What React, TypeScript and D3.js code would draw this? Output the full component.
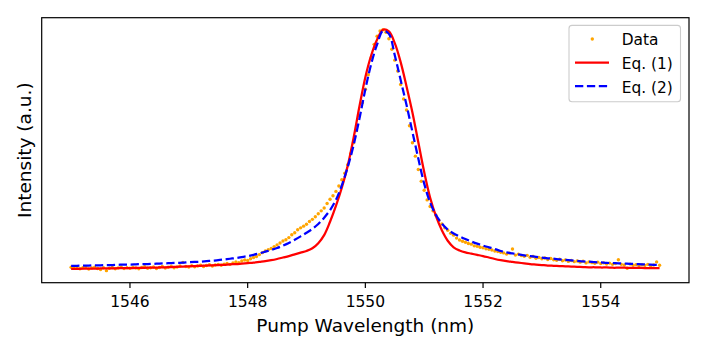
import React from "react";
import * as d3 from "d3";

// measured data, 1545..1555 nm in 0.05 nm steps (normalised intensity)
const dataStart = 1545;
const dataStep = 0.05;
const dataValues = [
  0.018, 0.014, 0.02, 0.012, 0.016, 0.019, 0.011, 0.015, 0.018, 0.013, 0.009, 0.016, 0.004, 0.014, 0.017, 0.012, 0.015, 0.019, 0.013, 0.016,
  0.014, 0.018, 0.015, 0.012, 0.017, 0.02, 0.014, 0.016, 0.019, 0.013, 0.017, 0.021, 0.015, 0.018, 0.022, 0.016, 0.019, 0.023, 0.038, 0.021,
  0.019, 0.024, 0.02, 0.023, 0.026, 0.021, 0.025, 0.028, 0.023, 0.027, 0.03, 0.026, 0.031, 0.034, 0.03, 0.036, 0.04, 0.037, 0.044, 0.048,
  0.046, 0.053, 0.058, 0.062, 0.07, 0.078, 0.085, 0.09, 0.095, 0.103, 0.11, 0.118, 0.126, 0.131, 0.14, 0.152, 0.16, 0.172, 0.18, 0.187,
  0.195, 0.206, 0.215, 0.226, 0.238, 0.25, 0.262, 0.28, 0.298, 0.312, 0.33, 0.352, 0.378, 0.405, 0.44, 0.485, 0.53, 0.58, 0.64, 0.695,
  0.75, 0.81, 0.88, 0.935, 0.968, 0.99, 0.995, 0.985, 0.958, 0.915, 0.87, 0.825, 0.77, 0.71, 0.665, 0.6, 0.53, 0.475, 0.42, 0.372,
  0.335, 0.295, 0.268, 0.25, 0.232, 0.21, 0.196, 0.18, 0.17, 0.158, 0.15, 0.138, 0.13, 0.125, 0.121, 0.116, 0.113, 0.106, 0.104, 0.1,
  0.098, 0.094, 0.092, 0.089, 0.085, 0.083, 0.08, 0.077, 0.072, 0.076, 0.093, 0.068, 0.072, 0.066, 0.063, 0.067, 0.059, 0.062, 0.055, 0.058,
  0.053, 0.056, 0.05, 0.054, 0.049, 0.047, 0.051, 0.045, 0.048, 0.042, 0.046, 0.041, 0.044, 0.039, 0.043, 0.036, 0.04, 0.037, 0.034, 0.039,
  0.033, 0.036, 0.031, 0.035, 0.03, 0.033, 0.049, 0.03, 0.027, 0.014, 0.031, 0.026, 0.029, 0.024, 0.028, 0.025, 0.03, 0.023, 0.027, 0.04,
  0.026,
];

// fitted curves, 1545..1555 nm in 0.1 nm steps
const fitStep = 0.1;
const eq1Values = [
  0.011, 0.011, 0.012, 0.012, 0.012, 0.013, 0.013, 0.013, 0.014, 0.014,
  0.014, 0.015, 0.015, 0.016, 0.016, 0.017, 0.018, 0.019, 0.02, 0.021,
  0.022, 0.023, 0.024, 0.025, 0.026, 0.027, 0.028, 0.03, 0.031, 0.033,
  0.035, 0.037, 0.04, 0.043, 0.047, 0.052, 0.058, 0.064, 0.071, 0.078,
  0.085, 0.096, 0.117, 0.15, 0.205, 0.27, 0.345, 0.435, 0.55, 0.68,
  0.8, 0.89, 0.955, 0.995, 0.988, 0.94, 0.862, 0.762, 0.655, 0.532,
  0.41, 0.305, 0.228, 0.17, 0.127, 0.1, 0.087, 0.079, 0.074, 0.069,
  0.064, 0.058, 0.052, 0.047, 0.043, 0.04, 0.037, 0.034, 0.031, 0.029,
  0.027, 0.025, 0.024, 0.023, 0.022, 0.021, 0.02, 0.019, 0.018, 0.018,
  0.017, 0.017, 0.016, 0.016, 0.016, 0.015, 0.015, 0.015, 0.014, 0.014,
  0.014,
];
const eq2Values = [
  0.024, 0.024, 0.025, 0.025, 0.026, 0.026, 0.027, 0.027, 0.028, 0.029,
  0.029, 0.03, 0.031, 0.031, 0.032, 0.033, 0.034, 0.035, 0.036, 0.037,
  0.039, 0.04, 0.041, 0.043, 0.045, 0.047, 0.05, 0.053, 0.056, 0.06,
  0.064, 0.069, 0.075, 0.082, 0.089, 0.097, 0.107, 0.118, 0.131, 0.145,
  0.16, 0.176, 0.196, 0.222, 0.253, 0.295, 0.355, 0.43, 0.52, 0.63,
  0.75, 0.855, 0.935, 0.99, 0.978, 0.89, 0.788, 0.685, 0.575, 0.465,
  0.362, 0.285, 0.233, 0.198, 0.173, 0.157, 0.145, 0.134, 0.124, 0.115,
  0.107, 0.1, 0.093, 0.085, 0.079, 0.075, 0.071, 0.067, 0.064, 0.061,
  0.058, 0.055, 0.053, 0.05, 0.048, 0.046, 0.044, 0.042, 0.041, 0.039,
  0.038, 0.036, 0.035, 0.034, 0.033, 0.032, 0.031, 0.03, 0.029, 0.028,
  0.027,
];

const xTicks = [1546, 1548, 1550, 1552, 1554];
const legendLabels = ["Data", "Eq. (1)", "Eq. (2)"];

type Pt = [number, number];

export default function App() {
  const W = 706;
  const H = 353;
  const left = 41.7, right = 689, top = 17.7, bottom = 282.7;

  const dataPts: Pt[] = dataValues.map((v, i) => [dataStart + i * dataStep, v]);
  const eq1Pts: Pt[] = eq1Values.map((v, i) => [dataStart + i * fitStep, v]);
  const eq2Pts: Pt[] = eq2Values.map((v, i) => [dataStart + i * fitStep, v]);

  // matplotlib style 5% margins
  const xr = d3.extent(dataPts, (d) => d[0]) as Pt;
  const allY = [...dataValues, ...eq1Values, ...eq2Values];
  const yr = d3.extent(allY) as Pt;
  const xPad = (xr[1] - xr[0]) * 0.05;
  const yPad = (yr[1] - yr[0]) * 0.05;

  const x = d3.scaleLinear().domain([xr[0] - xPad, xr[1] + xPad]).range([left, right]);
  const y = d3.scaleLinear().domain([yr[0] - yPad, yr[1] + yPad]).range([bottom, top]);

  const line = d3
    .line<Pt>()
    .x((d) => x(d[0]))
    .y((d) => y(d[1]))
    .curve(d3.curveCatmullRom.alpha(0.5));

  const font = "'DejaVu Sans', sans-serif";
  const lw = 2.25;

  // legend geometry
  const lgX = 569, lgY = 25.4, lgW = 111.5, lgH = 76.3;
  const rowY = [39, 62.5, 86.2];

  return (
    <svg
      width={W}
      height={H}
      style={{ position: "absolute", left: 0, top: 0, background: "#fff" }}
      fontFamily={font}
    >
      <rect x={0} y={0} width={W} height={H} fill="#fff" />
      <g>
        {dataPts.map((d, i) => (
          <circle key={i} cx={x(d[0])} cy={y(d[1])} r={1.7} fill="#FFA500" />
        ))}
      </g>
      <path d={line(eq1Pts) ?? ""} fill="none" stroke="#FF0000" strokeWidth={lw} strokeLinejoin="round" />
      <path
        d={line(eq2Pts) ?? ""}
        fill="none"
        stroke="#0000FF"
        strokeWidth={lw}
        strokeDasharray="8.3,3.6"
      />

      {/* axes frame */}
      <rect x={left} y={top} width={right - left} height={bottom - top} fill="none" stroke="#000" strokeWidth={1.2} />

      {xTicks.map((t) => (
        <g key={t} transform={`translate(${x(t)},0)`}>
          <line y1={bottom} y2={bottom + 5.3} stroke="#000" strokeWidth={1.2} />
          <text y={306.5} textAnchor="middle" fontSize={15.5} fill="#000">
            {t}
          </text>
        </g>
      ))}

      <text x={(left + right) / 2} y={332} textAnchor="middle" fontSize={18.5} fill="#000">
        Pump Wavelength (nm)
      </text>
      <text
        transform={`translate(30.5,${(top + bottom) / 2}) rotate(-90)`}
        textAnchor="middle"
        fontSize={18.5}
        fill="#000"
      >
        Intensity (a.u.)
      </text>

      {/* legend */}
      <rect x={lgX} y={lgY} width={lgW} height={lgH} rx={3} fill="#fff" fillOpacity={0.8} stroke="#cccccc" strokeWidth={1.1} />
      <circle cx={592.3} cy={rowY[0]} r={1.7} fill="#FFA500" />
      <line x1={575} x2={609} y1={rowY[1]} y2={rowY[1]} stroke="#FF0000" strokeWidth={lw} />
      <line x1={575} x2={609} y1={rowY[2]} y2={rowY[2]} stroke="#0000FF" strokeWidth={lw} strokeDasharray="8.3,3.6" />
      {legendLabels.map((l, i) => (
        <text key={l} x={621.7} y={rowY[i] + 6.3} fontSize={15.4} fill="#000">
          {l}
        </text>
      ))}
    </svg>
  );
}
